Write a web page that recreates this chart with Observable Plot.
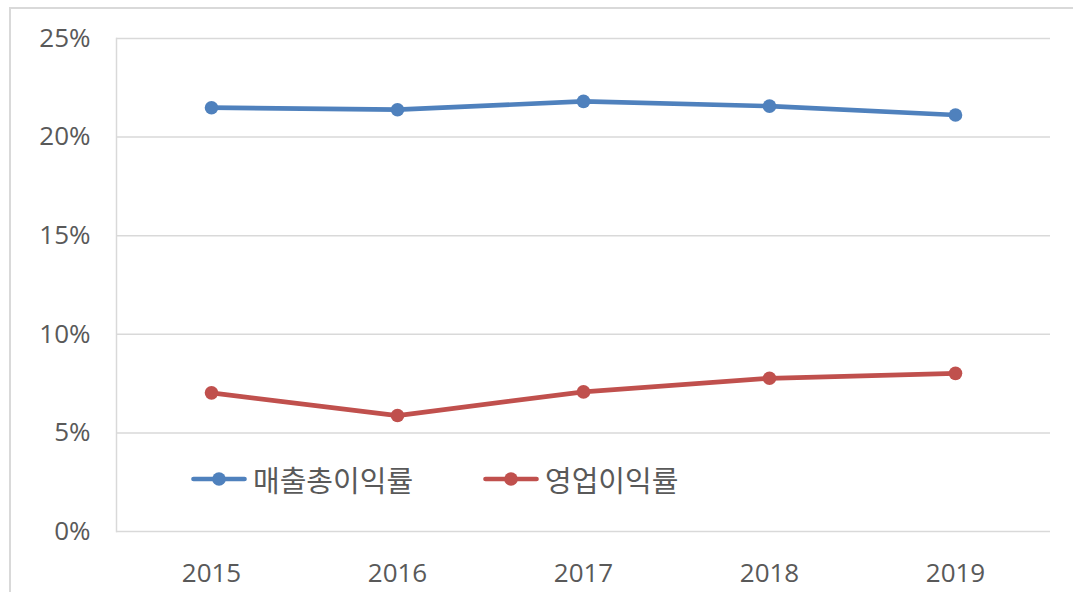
<!DOCTYPE html>
<html>
<head>
<meta charset="utf-8">
<script src="https://cdn.jsdelivr.net/npm/d3@7"></script>
<script src="https://cdn.jsdelivr.net/npm/@observablehq/plot@0.6"></script>
<style>
  html, body { margin: 0; padding: 0; background: #fff; }
  #wrap { position: relative; width: 1073px; height: 592px; overflow: hidden; }
  #border { position: absolute; left: 9px; top: 7px; width: 1100px; height: 620px; border: 2px solid #d9d9d9; box-sizing: border-box; }
  #chart { position: absolute; left: 0; top: 0; }
  #legend { position: absolute; top: 462px; left: 0; width: 1073px; height: 34px; font-family: "Noto Sans CJK KR", sans-serif; font-size: 29px; color: #595959; }
  .item { position: absolute; top: 0; display: flex; align-items: center; height: 34px; }
  .item svg { margin-right: 6px; }
</style>
</head>
<body>
<div id="wrap">
  <div id="border"></div>
  <div id="chart"></div>
  <div id="legend"></div>
</div>
<script>
const years = ["2015", "2016", "2017", "2018", "2019"];
const grossMargin = [21.49, 21.39, 21.81, 21.57, 21.12];
const operatingMargin = [7.03, 5.88, 7.08, 7.77, 8.02];
const seriesNames = ["매출총이익률", "영업이익률"];
const seriesColors = ["#4F81BD", "#C0504D"];
const yTicks = [0, 5, 10, 15, 20, 25];

const data = [];
years.forEach((y, i) => {
  data.push({year: y, value: grossMargin[i] / 100, series: seriesNames[0]});
  data.push({year: y, value: operatingMargin[i] / 100, series: seriesNames[1]});
});

const chart = Plot.plot({
  width: 1073,
  height: 592,
  marginLeft: 116,
  marginRight: 23,
  marginTop: 38,
  marginBottom: 61,
  style: {fontFamily: "'Open Sans', sans-serif", fontSize: "26px", color: "#595959", background: "transparent"},
  x: {type: "point", domain: years, padding: 0.5},
  y: {domain: [0, 0.25]},
  color: {domain: seriesNames, range: seriesColors},
  marks: [
    Plot.gridY(yTicks.map(t => t / 100), {stroke: "#d9d9d9", strokeOpacity: 1, strokeWidth: 1.5}),
    Plot.frame({anchor: "left", stroke: "#d9d9d9", strokeWidth: 1.5}),
    Plot.axisY(yTicks.map(t => t / 100), {tickSize: 0, tickPadding: 26, tickFormat: d => Math.round(d * 100) + "%", fill: "#595959", label: null}),
    Plot.axisX({tickSize: 0, tickPadding: 32, fill: "#595959", label: null}),
    Plot.line(data, {x: "year", y: "value", stroke: "series", z: "series", strokeWidth: 4.7, strokeLinejoin: "round", strokeLinecap: "round"}),
    Plot.dot(data, {x: "year", y: "value", fill: "series", r: 6.8})
  ]
});
document.getElementById("chart").appendChild(chart);

const legend = document.getElementById("legend");
const legendLeft = [191, 483];
seriesNames.forEach((name, i) => {
  const item = document.createElement("div");
  item.className = "item";
  item.style.left = legendLeft[i] + "px";
  item.innerHTML = `<svg width="56" height="16"><line x1="2.5" y1="8" x2="53.5" y2="8" stroke="${seriesColors[i]}" stroke-width="4.7" stroke-linecap="round"/><circle cx="28" cy="8" r="6.8" fill="${seriesColors[i]}"/></svg><span>${name}</span>`;
  legend.appendChild(item);
});
</script>
</body>
</html>
